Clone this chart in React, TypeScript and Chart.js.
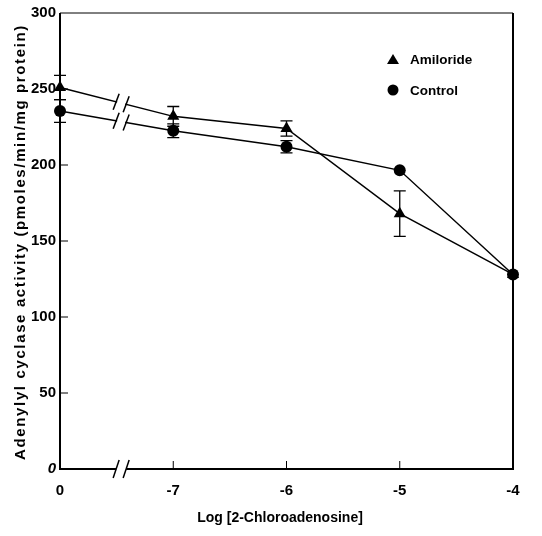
import React, { useEffect, useRef } from "react";
import { Chart, registerables } from "chart.js";

Chart.register(...registerables);

const xPositions = [0, 1, 2, 3, 4];
const xLabels = ["0", "-7", "-6", "-5", "-4"];
const amilorideValues = [251, 232, 224, 168, 128];
const amilorideErr = [8, 6.5, 5, 15, 0];
const controlValues = [235.5, 222.5, 212, 196.5, 128];
const controlErr = [7.5, 4.5, 4, 0, 0];
const yTicks = [0, 50, 100, 150, 200, 250, 300];
const breakX = 0.54;

const FONT = "'Liberation Sans', Arial, sans-serif";

const overlay = {
  id: "overlay",
  afterDatasetsDraw(chart: any) {
    const ctx = chart.ctx;
    const { left, right, top, bottom } = chart.chartArea;
    const xs = chart.scales.x;
    const ys = chart.scales.y;
    ctx.save();
    ctx.strokeStyle = "#000";
    ctx.fillStyle = "#000";

    // error bars
    const errSets = [
      { vals: amilorideValues, errs: amilorideErr },
      { vals: controlValues, errs: controlErr },
    ];
    ctx.lineWidth = 1.3;
    errSets.forEach((s) => {
      s.vals.forEach((v, i) => {
        const e = s.errs[i];
        if (!e) return;
        const px = xs.getPixelForValue(xPositions[i]);
        const y1 = ys.getPixelForValue(v + e);
        const y2 = ys.getPixelForValue(v - e);
        ctx.beginPath();
        ctx.moveTo(px, y1);
        ctx.lineTo(px, y2);
        ctx.moveTo(px - 6, y1);
        ctx.lineTo(px + 6, y1);
        ctx.moveTo(px - 6, y2);
        ctx.lineTo(px + 6, y2);
        ctx.stroke();
      });
    });

    // breaks on lines
    const bx = xs.getPixelForValue(breakX);
    [amilorideValues, controlValues].forEach((vals) => {
      const x0 = xs.getPixelForValue(xPositions[0]);
      const x1 = xs.getPixelForValue(xPositions[1]);
      const y0 = ys.getPixelForValue(vals[0]);
      const y1 = ys.getPixelForValue(vals[1]);
      const slope = (y1 - y0) / (x1 - x0);
      const yAt = (x: number) => y0 + slope * (x - x0);
      ctx.strokeStyle = "#fff";
      ctx.lineWidth = 5;
      ctx.beginPath();
      ctx.moveTo(bx - 4, yAt(bx - 4));
      ctx.lineTo(bx + 4, yAt(bx + 4));
      ctx.stroke();
      ctx.strokeStyle = "#000";
      ctx.lineWidth = 1.5;
      [-5, 5].forEach((dx) => {
        const cx = bx + dx;
        const cy = yAt(cx);
        ctx.beginPath();
        ctx.moveTo(cx - 3, cy + 8);
        ctx.lineTo(cx + 3, cy - 8);
        ctx.stroke();
      });
    });

    // frame
    ctx.strokeStyle = "#000";
    ctx.lineWidth = 1;
    ctx.beginPath();
    ctx.moveTo(left, top);
    ctx.lineTo(right, top);
    ctx.stroke();
    ctx.lineWidth = 2;
    ctx.beginPath();
    ctx.moveTo(left, top);
    ctx.lineTo(left, bottom);
    ctx.lineTo(bx - 5, bottom);
    ctx.moveTo(bx + 5, bottom);
    ctx.lineTo(right, bottom);
    ctx.lineTo(right, top);
    ctx.stroke();
    ctx.lineWidth = 1.5;
    [-5, 5].forEach((dx) => {
      const cx = bx + dx;
      ctx.beginPath();
      ctx.moveTo(cx - 3, bottom + 9);
      ctx.lineTo(cx + 3, bottom - 9);
      ctx.stroke();
    });

    // inward ticks
    ctx.lineWidth = 1;
    yTicks.forEach((t) => {
      if (t === 0 || t === 300) return;
      const py = ys.getPixelForValue(t);
      ctx.beginPath();
      ctx.moveTo(left, py);
      ctx.lineTo(left + 8, py);
      ctx.stroke();
    });
    xPositions.forEach((p, i) => {
      if (i === 0 || i === xPositions.length - 1) return;
      const px = xs.getPixelForValue(p);
      ctx.beginPath();
      ctx.moveTo(px, bottom);
      ctx.lineTo(px, bottom - 8);
      ctx.stroke();
    });

    // legend
    const lx = 393;
    ctx.fillStyle = "#000";
    ctx.beginPath();
    ctx.moveTo(lx, 54);
    ctx.lineTo(lx + 6, 64);
    ctx.lineTo(lx - 6, 64);
    ctx.closePath();
    ctx.fill();
    ctx.beginPath();
    ctx.arc(lx, 90, 5.5, 0, Math.PI * 2);
    ctx.fill();
    ctx.font = "bold 13.5px " + FONT;
    ctx.textBaseline = "middle";
    ctx.textAlign = "left";
    ctx.fillText("Amiloride", 410, 60);
    ctx.fillText("Control", 410, 91);

    // axis titles
    ctx.textAlign = "center";
    ctx.font = "bold 14px " + FONT;
    ctx.fillText("Log [2-Chloroadenosine]", 280, 518);

    const yTitle = "Adenylyl cyclase activity (pmoles/min/mg protein)";
    ctx.font = "bold 15px " + FONT;
    const w = ctx.measureText(yTitle).width;
    const target = 436;
    const sp = Math.max(0, (target - w) / yTitle.length);
    ctx.save();
    ctx.translate(21, 242);
    ctx.rotate(-Math.PI / 2);
    (ctx as any).letterSpacing = sp.toFixed(2) + "px";
    ctx.fillText(yTitle, 0, 0);
    ctx.restore();

    ctx.restore();
  },
};

export default function App() {
  const ref = useRef<HTMLCanvasElement>(null);
  useEffect(() => {
    document.body.style.margin = "0";
    const chart = new Chart(ref.current as HTMLCanvasElement, {
      type: "line",
      data: {
        datasets: [
          {
            label: "Amiloride",
            data: xPositions.map((x, i) => ({ x, y: amilorideValues[i] })),
            borderColor: "#000",
            backgroundColor: "#000",
            borderWidth: 1.5,
            pointStyle: "triangle",
            pointRadius: 7,
            pointBorderWidth: 0,
            tension: 0,
            clip: false,
          },
          {
            label: "Control",
            data: xPositions.map((x, i) => ({ x, y: controlValues[i] })),
            borderColor: "#000",
            backgroundColor: "#000",
            borderWidth: 1.5,
            pointStyle: "circle",
            pointRadius: 6,
            pointBorderWidth: 0,
            tension: 0,
            clip: false,
          },
        ],
      },
      options: {
        animation: false,
        responsive: false,
        layout: { padding: { left: 0, right: 29, top: 13, bottom: 0 } },
        plugins: { legend: { display: false }, tooltip: { enabled: false } },
        scales: {
          x: {
            type: "linear",
            min: 0,
            max: 4,
            grid: { display: false, drawTicks: false },
            border: { display: false },
            afterFit: (s: any) => {
              s.height = 67;
            },
            afterBuildTicks: (s: any) => {
              s.ticks = xPositions.map((v) => ({ value: v }));
            },
            ticks: {
              color: "#000",
              padding: 13,
              maxRotation: 0,
              autoSkip: false,
              font: { family: FONT, size: 15, weight: "bold" },
              callback: (v: any) => {
                const i = xPositions.indexOf(Number(v));
                return i >= 0 ? xLabels[i] : "";
              },
            },
          },
          y: {
            min: 0,
            max: 300,
            grid: { display: false, drawTicks: false },
            border: { display: false },
            afterFit: (s: any) => {
              s.width = 60;
            },
            afterBuildTicks: (s: any) => {
              s.ticks = yTicks.map((v) => ({ value: v }));
            },
            ticks: {
              color: "#000",
              padding: 4,
              font: (c: any) => ({
                family: FONT,
                size: 15,
                weight: "bold",
                style: c.tick && c.tick.value === 0 ? "italic" : "normal",
              }),
            },
          },
        },
      },
      plugins: [overlay],
    });
    return () => chart.destroy();
  }, []);
  return (
    <div style={{ width: 542, height: 536 }}>
      <canvas ref={ref} width={542} height={536} />
    </div>
  );
}
